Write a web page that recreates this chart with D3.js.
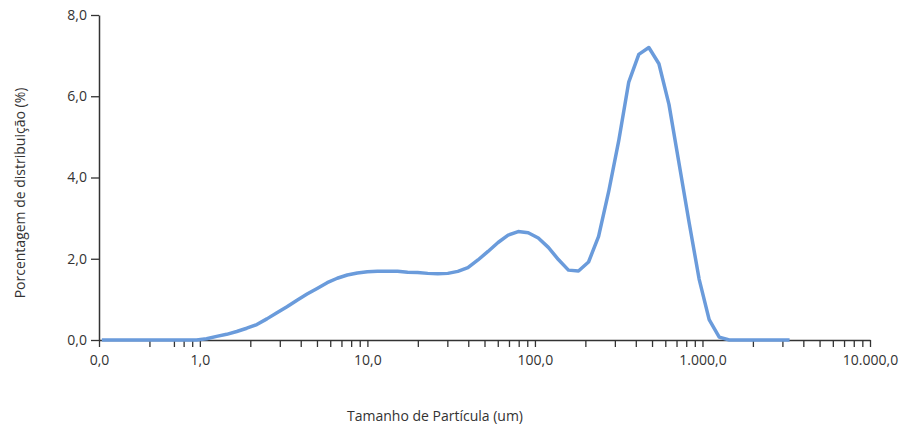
<!DOCTYPE html>
<html>
<head>
<meta charset="utf-8">
<script src="https://cdn.jsdelivr.net/npm/d3@7"></script>
<style>
  html, body { margin: 0; padding: 0; background: #fff; }
  svg { display: block; font-family: "Open Sans", sans-serif; }
  .axis path, .axis line { stroke: #333; }
  .axis text { fill: #333; font-size: 14px; font-family: "Open Sans", sans-serif; }
</style>
</head>
<body>
<svg id="chart" width="903" height="430"></svg>
<script>
// Particle sizes (um)
const sizes = [0.26, 0.316, 0.363, 0.417, 0.479, 0.550, 0.631, 0.724, 0.832, 0.955,
  1.096, 1.259, 1.445, 1.660, 1.905, 2.188, 2.512, 2.884, 3.311, 3.802,
  4.365, 5.012, 5.754, 6.607, 7.586, 8.710, 10.000, 11.482, 13.183, 15.136,
  17.378, 19.953, 22.909, 26.303, 30.200, 34.674, 39.811, 45.709, 52.481, 60.256,
  69.183, 79.433, 91.201, 104.713, 120.226, 138.038, 158.489, 181.970, 208.930, 239.883,
  275.423, 316.228, 363.078, 416.869, 478.630, 549.541, 630.957, 724.436, 831.764, 954.993,
  1096.478, 1258.925, 1445.440, 1659.587, 1905.461, 2187.762, 2511.886, 2884.032, 3311.311];

// Distribution (%)
const distribution = [0, 0, 0, 0, 0, 0, 0, 0, 0, 0,
  0.03, 0.09, 0.14, 0.21, 0.29, 0.38, 0.52, 0.67, 0.82, 0.98,
  1.13, 1.27, 1.41, 1.52, 1.60, 1.65, 1.68, 1.69, 1.69, 1.69,
  1.67, 1.66, 1.64, 1.63, 1.64, 1.69, 1.78, 1.97, 2.18, 2.40,
  2.58, 2.67, 2.64, 2.51, 2.28, 1.98, 1.72, 1.70, 1.92, 2.55,
  3.65, 4.90, 6.35, 7.03, 7.20, 6.80, 5.80, 4.35, 2.90, 1.50,
  0.50, 0.07, 0, 0, 0, 0, 0, 0, 0];

const xMajorTicks = [0.25, 1, 10, 100, 1000, 10000];
const xMajorLabels = ["0,0", "1,0", "10,0", "100,0", "1.000,0", "10.000,0"];
const xMinorTicks = [0.5, 0.7, 0.8, 0.9,
  2, 3, 4, 5, 6, 7, 8, 9,
  20, 30, 40, 50, 60, 70, 80, 90,
  200, 300, 400, 500, 600, 700, 800, 900,
  2000, 3000, 4000, 5000, 6000, 7000, 8000, 9000];
const yTicks = [0, 2, 4, 6, 8];
const yTickLabels = ["0,0", "2,0", "4,0", "6,0", "8,0"];

const xTitle = "Tamanho de Partícula (um)";
const yTitle = "Porcentagem de distribuição (%)";

const svg = d3.select("#chart");
const mLeft = 99, mRight = 870, mTop = 15, mBottom = 340;

const x = d3.scaleLog().domain([0.25, 10000]).range([mLeft, mRight]);
const y = d3.scaleLinear().domain([0, 8]).range([mBottom, mTop]);

// X axis
const allX = xMajorTicks.concat(xMinorTicks).sort((a, b) => a - b);
const xAxis = d3.axisBottom(x)
  .tickValues(allX)
  .tickSize(7)
  .tickSizeOuter(0)
  .tickPadding(8)
  .tickFormat(d => {
    const i = xMajorTicks.indexOf(d);
    return i >= 0 ? xMajorLabels[i] : "";
  });
const gx = svg.append("g").attr("class", "axis")
  .attr("transform", `translate(0,${mBottom})`)
  .call(xAxis);
gx.select(".domain").attr("stroke-width", 1.5);
gx.selectAll(".tick line").attr("stroke-width", 1.3);

// Y axis
const yAxis = d3.axisLeft(y)
  .tickValues(yTicks)
  .tickSize(8)
  .tickSizeOuter(0)
  .tickPadding(4)
  .tickFormat((d, i) => yTickLabels[i]);
const gy = svg.append("g").attr("class", "axis")
  .attr("transform", `translate(${mLeft},0)`)
  .call(yAxis);
gy.select(".domain").attr("stroke-width", 1.5);
gy.selectAll(".tick line").attr("stroke-width", 1.3);

// Line
const line = d3.line()
  .x((d, i) => x(sizes[i]))
  .y(d => y(d));
svg.append("path")
  .datum(distribution)
  .attr("fill", "none")
  .attr("stroke", "#6a9bdb")
  .attr("stroke-width", 3.5)
  .attr("stroke-linejoin", "round")
  .attr("d", line);

// Titles
svg.append("text")
  .attr("x", 435).attr("y", 421)
  .attr("text-anchor", "middle")
  .attr("fill", "#333")
  .attr("font-size", 14)
  .text(xTitle);

svg.append("text")
  .attr("transform", "translate(25,193) rotate(-90)")
  .attr("text-anchor", "middle")
  .attr("fill", "#333")
  .attr("font-size", 14)
  .text(yTitle);
</script>
</body>
</html>
